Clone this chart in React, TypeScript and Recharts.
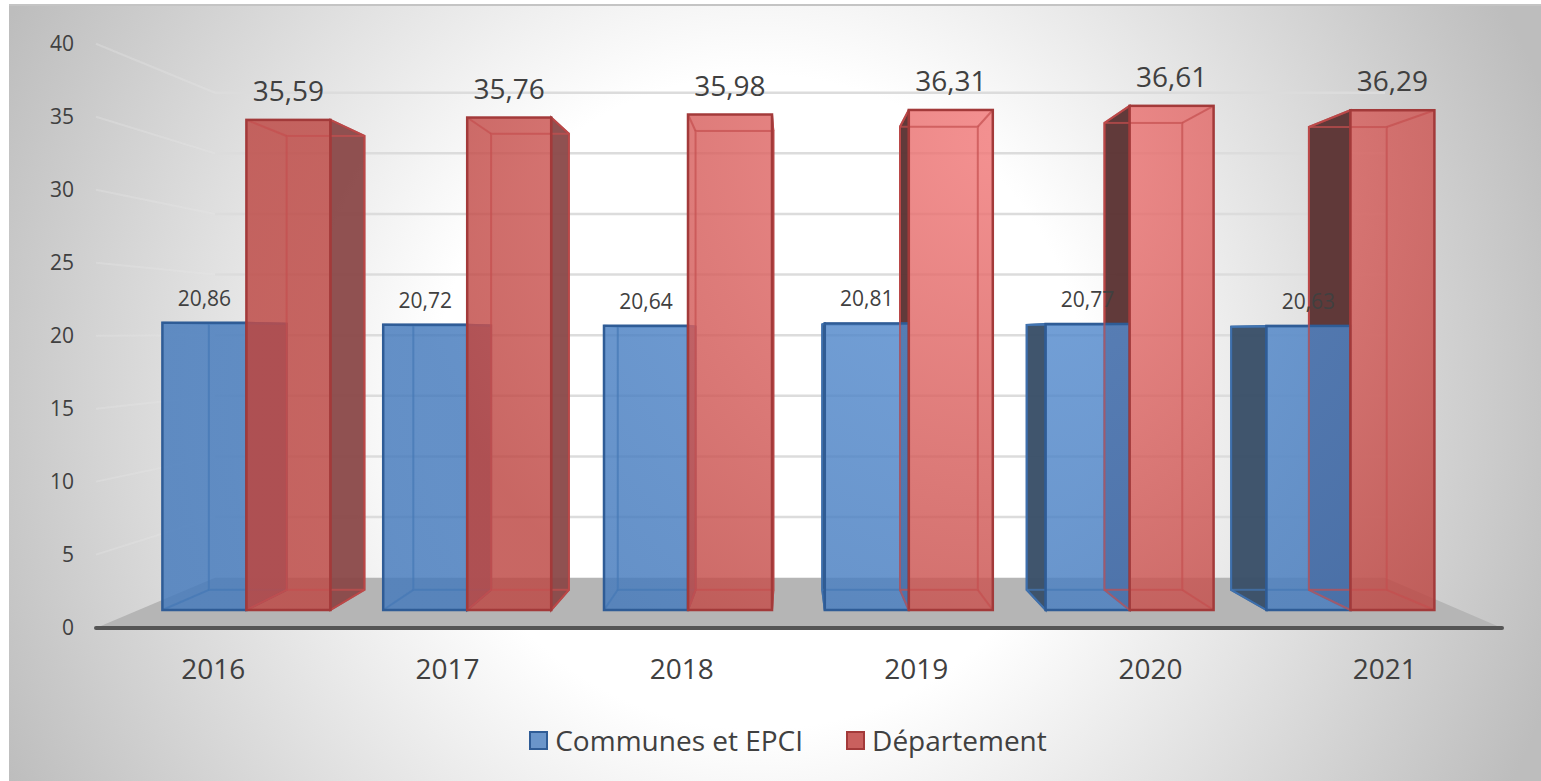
import { Bar, BarChart, LabelList, Legend, ReferenceArea, ReferenceLine, XAxis, YAxis } from 'recharts';

const YEARS = ['2016', '2017', '2018', '2019', '2020', '2021'];
const COMMUNES = [20.86, 20.72, 20.64, 20.81, 20.77, 20.63];
const DEPARTEMENT = [35.59, 35.76, 35.98, 36.31, 36.61, 36.29];
const VALUE_TICKS = [0, 5, 10, 15, 20, 25, 30, 35, 40];
const WALL_TICKS = [5, 10, 15, 20, 25, 30, 35, 40];

const data = YEARS.map((year, i) => ({
  year,
  communes: COMMUNES[i],
  departement: DEPARTEMENT[i],
}));

// perspective of the 3D box: back face = front face pulled towards the vanishing point
const VX = 790;
const VY = 337;
const DEPTH = 0.926;
const project = (px: number, py: number) => [VX + (px - VX) * DEPTH, VY + (py - VY) * DEPTH];

const BLUE = {
  grad: 'url(#blueFace)',
  edge: '#2f5c96',
  inner: '#4577b5',
  leftWall: '#3a4f68',
  rightWall: '#5d7196',
};
const RED = {
  grad: 'url(#redFace)',
  edge: '#a33a3a',
  inner: '#c54f4f',
  leftWall: '#5c3434',
  rightWall: '#8a4848',
};

const pts = (list: number[][]) => list.map((p) => p.join(',')).join(' ');

function depthFace(style: typeof BLUE) {
  return (props: any) => {
    const { x, y, width, height } = props;
    const [bl, bt] = project(x, y);
    const [br, bb] = project(x + width, y + height);
    const fx = x + width;
    const fy = y + height;
    return (
      <g>
        {br > fx && (
          <polygon
            points={pts([[fx, y], [br, bt], [br, bb], [fx, fy]])}
            fill={style.rightWall}
            fillOpacity={0.95}
            stroke={style.edge}
            strokeWidth={2}
          />
        )}
        {bl < x && (
          <polygon
            points={pts([[x, y], [bl, bt], [bl, bb], [x, fy]])}
            fill={style.leftWall}
            fillOpacity={0.97}
            stroke={style.edge}
            strokeWidth={2}
          />
        )}
      </g>
    );
  };
}

function frontFace(style: typeof BLUE) {
  return (props: any) => {
    const { x, y, width, height } = props;
    const [bl, bt] = project(x, y);
    const [br, bb] = project(x + width, y + height);
    const fx = x + width;
    const fy = y + height;
    return (
      <g fill="none">
        <rect x={x} y={y} width={width} height={height} fill={style.grad} fillOpacity={0.83} />
        <g stroke={style.inner} strokeOpacity={0.7} strokeWidth={2}>
          <rect x={bl} y={bt} width={br - bl} height={bb - bt} />
          <line x1={x} y1={y} x2={bl} y2={bt} />
          <line x1={fx} y1={y} x2={br} y2={bt} />
          <line x1={x} y1={fy} x2={bl} y2={bb} />
          <line x1={fx} y1={fy} x2={br} y2={bb} />
        </g>
        <rect x={x} y={y} width={width} height={height} stroke={style.edge} strokeWidth={2.5} />
      </g>
    );
  };
}

// back wall runs from 215 to 1385, left side wall fans out to the plot edge
const WALL_LEFT = 215;
const WALL_RIGHT = 1385;
const FLOOR_RATIO = 0.8305;
const HORIZON = 333;

function WallLine(props: any) {
  const { x1, y1 } = props;
  const outer = HORIZON + (y1 - HORIZON) / FLOOR_RATIO;
  return (
    <g fill="none">
      <polyline points={pts([[x1, outer], [WALL_LEFT, y1]])} stroke="#e6e6e6" strokeOpacity={0.35} strokeWidth={2} />
      <polyline points={pts([[WALL_LEFT, y1], [WALL_RIGHT, y1]])} stroke="#dcdcdc" strokeWidth={2.5} />
    </g>
  );
}

function Floor(props: any) {
  const { x, y, width, height } = props;
  return (
    <polygon
      points={pts([[WALL_LEFT, y], [WALL_RIGHT, y], [x + width, y + height], [x, y + height]])}
      fill="#b5b5b5"
    />
  );
}

function renderLegend(props: any) {
  const items = (props.payload || []).filter((p: any) => p.type !== 'none');
  return (
    <div style={{ display: 'flex', justifyContent: 'center', gap: 43, alignItems: 'center' }}>
      {items.map((item: any) => (
        <div key={item.value} style={{ display: 'flex', alignItems: 'center', gap: 7 }}>
          <div
            style={{
              width: 15,
              height: 15,
              background: item.color,
              border: `2px solid ${item.value === 'Département' ? RED.edge : BLUE.edge}`,
            }}
          />
          <span style={{ fontSize: 28, color: '#404040', lineHeight: '36px' }}>{item.value}</span>
        </div>
      ))}
    </div>
  );
}

const comma = (v: any) => String(v).replace('.', ',');
const BAR_PADDING = { left: 40.4, right: 40.8 };
const noMark = () => null;

export default function App() {
  return (
    <div
      style={{
        position: 'absolute',
        left: 0,
        top: 0,
        width: 1541,
        height: 781,
        overflow: 'hidden',
        fontFamily: '"Open Sans", sans-serif',
        background: '#ffffff',
      }}
    >
      <div
        style={{
          position: 'absolute',
          left: 9,
          top: 4,
          right: 0,
          bottom: 0,
          borderTop: '2px solid #c4c4c4',
          background: 'radial-gradient(circle 860px at 751px 396px, #ffffff 38%, #bdbdbd 98%)',
        }}
      />
      <div style={{ position: 'absolute', left: 0, top: 0 }}>
        <BarChart
          width={1541}
          height={781}
          data={data}
          margin={{ top: 44, right: 39, bottom: 57, left: 0 }}
          barSize={84}
          barGap={0}
          barCategoryGap={26.4}
        >
          <defs>
            <radialGradient id="redFace" gradientUnits="userSpaceOnUse" cx={1010} cy={130} r={620}>
              <stop offset="0%" stopColor="#f37c7c" />
              <stop offset="100%" stopColor="#bd4844" />
            </radialGradient>
            <radialGradient id="blueFace" gradientUnits="userSpaceOnUse" cx={1010} cy={130} r={620}>
              <stop offset="0%" stopColor="#5d93d5" />
              <stop offset="100%" stopColor="#457abc" />
            </radialGradient>
          </defs>

          <XAxis
            xAxisId="axis"
            dataKey="year"
            height={60}
            axisLine={{ stroke: '#555555', strokeWidth: 4, strokeLinecap: 'round' }}
            tickLine={false}
            tickSize={0}
            tickMargin={31}
            tick={{ fontSize: 28, fill: '#404040' }}
          />
          <XAxis xAxisId="depth" dataKey="year" hide height={0} padding={BAR_PADDING} />
          <XAxis xAxisId="front" dataKey="year" hide height={0} padding={BAR_PADDING} />
          <YAxis
            yAxisId="value"
            width={96}
            domain={[0, 40]}
            ticks={VALUE_TICKS}
            axisLine={false}
            tickLine={false}
            tickSize={0}
            tickMargin={22}
            tick={{ fontSize: 21, fill: '#404040' }}
          />
          <YAxis yAxisId="bars" hide width={0} type="number" domain={[-1.307, 41.1]} />
          <YAxis yAxisId="wall" hide width={0} type="number" domain={[-4.15, 44.02]} />

          {/* invisible series so the visible axes and the wall axis get scales */}
          <Bar xAxisId="axis" yAxisId="value" dataKey="communes" legendType="none" shape={noMark} isAnimationActive={false} />
          <Bar xAxisId="axis" yAxisId="wall" dataKey="communes" legendType="none" shape={noMark} isAnimationActive={false} />

          <ReferenceArea xAxisId="axis" yAxisId="wall" y1={-4.15} y2={0} shape={Floor} ifOverflow="visible" zIndex={50} />
          {WALL_TICKS.map((v) => (
            <ReferenceLine key={v} xAxisId="axis" yAxisId="wall" y={v} shape={WallLine} zIndex={60} />
          ))}

          <Bar
            xAxisId="depth"
            yAxisId="bars"
            dataKey="communes"
            legendType="none"
            shape={depthFace(BLUE)}
            isAnimationActive={false}
          />
          <Bar
            xAxisId="depth"
            yAxisId="bars"
            dataKey="departement"
            legendType="none"
            shape={depthFace(RED)}
            isAnimationActive={false}
          />
          <Bar
            xAxisId="front"
            yAxisId="bars"
            dataKey="communes"
            name="Communes et EPCI"
            fill="#6a95ca"
            shape={frontFace(BLUE)}
            isAnimationActive={false}
          >
            <LabelList dataKey="communes" position="top" offset={17} formatter={comma} fontSize={21} fill="#404040" />
          </Bar>
          <Bar
            xAxisId="front"
            yAxisId="bars"
            dataKey="departement"
            name="Département"
            fill="#c9605e"
            shape={frontFace(RED)}
            isAnimationActive={false}
          >
            <LabelList dataKey="departement" position="top" offset={19} formatter={comma} fontSize={28} fill="#404040" />
          </Bar>

          <Legend content={renderLegend} wrapperStyle={{ left: 0, width: 1576, top: 722 }} />
        </BarChart>
      </div>
    </div>
  );
}
